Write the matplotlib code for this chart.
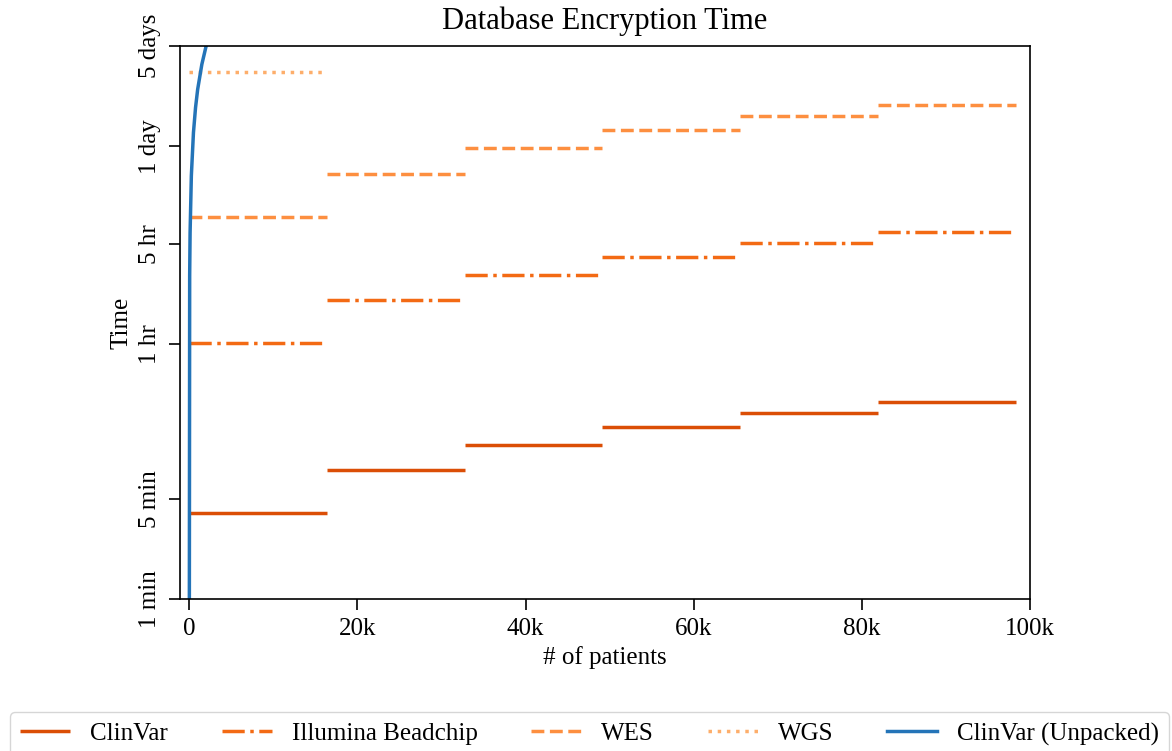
import numpy as np
import matplotlib
matplotlib.use("Agg")
import matplotlib.pyplot as plt

plt.rcParams['font.family'] = ['Liberation Serif', 'DejaVu Serif']
plt.rcParams['font.size'] = 18

# batch boundaries (# of patients) for the packed databases
batch_edges = [0, 16384, 32768, 49152, 65536, 81920, 98304]

# encryption time per batch, in seconds
clinvar_t = [239, 474, 712, 945, 1189, 1426]
illumina_t = [3650, 7265, 10870, 14556, 18227, 21850]
wes_t = [27810, 55475, 83400, 111360, 139400, 166400]
wgs_t = [285200]

# unpacked ClinVar grows with every patient
unpacked_n = [0, 50, 100, 250, 500, 750, 1000, 1500, 2000, 2500]
unpacked_t = [10, 10800, 21500, 53800, 107500, 161000, 215000, 322000, 430000, 537000]

ytick_vals = [60, 300, 3600, 18000, 86400, 432000]
ytick_labels = ['1 min', '5 min', '1 hr', '5 hr', '1 day', '5 days']
xtick_vals = [0, 20000, 40000, 60000, 80000, 100000]
xtick_labels = ['0', '20k', '40k', '60k', '80k', '100k']

series = [
    ('ClinVar', clinvar_t, '#db4e06', 'solid'),
    ('Illumina Beadchip', illumina_t, '#f36a14', 'dashdot'),
    ('WES', wes_t, '#fd8f40', 'dashed'),
    ('WGS', wgs_t, '#fdae6b', 'dotted'),
]

fig = plt.figure(figsize=(11.72, 7.51), dpi=100)
ax = fig.add_axes([180 / 1172, 1 - 599 / 751, 850 / 1172, 553 / 751])

lw = 2.5
for name, vals, col, ls in series:
    k = len(vals)
    ax.hlines(vals, batch_edges[:k], batch_edges[1:k + 1], colors=col,
              linestyles=ls, linewidth=lw, label=name)

ax.plot(unpacked_n, unpacked_t, color='#2474b8', linewidth=lw,
        label='ClinVar (Unpacked)')

ax.set_yscale('log')
ax.set_ylim(60, 432000)
ax.set_xlim(-1100, 100000)
ax.set_yticks(ytick_vals)
ax.set_yticklabels(ytick_labels, rotation=90, va='center')
ax.minorticks_off()
ax.set_xticks(xtick_vals)
ax.set_xticklabels(xtick_labels)
ax.tick_params(length=8, width=1.2, pad=6)
for sp in ax.spines.values():
    sp.set_linewidth(1.2)

ax.set_title('Database Encryption Time', fontsize=22, pad=12)
ax.set_xlabel('# of patients')
ax.set_ylabel('Time')

fig.legend(loc='upper center', bbox_to_anchor=(0.503, 0.068), ncol=5,
           frameon=True, columnspacing=2.15)

fig.savefig('out.png', dpi=100)
